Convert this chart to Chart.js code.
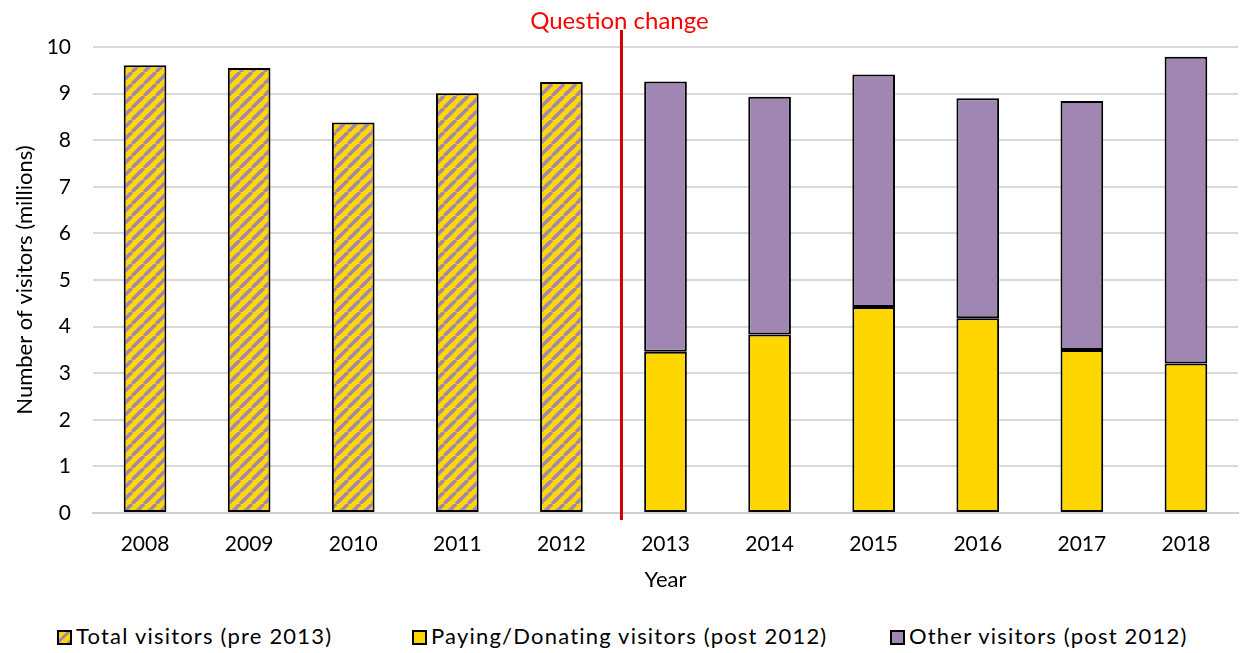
<!DOCTYPE html>
<html>
<head>
<meta charset="utf-8">
<script src="https://cdn.jsdelivr.net/npm/chart.js@4/dist/chart.umd.min.js"></script>
<style>
  html, body { margin: 0; padding: 0; background: #fff; }
  #wrap { width: 1243px; height: 653px; position: relative; overflow: hidden; }
  #plot { position: absolute; left: 0; top: 0; width: 1243px; height: 597px; }
  #legend { position: absolute; left: 0; top: 623px; width: 1243px; height: 30px;
            font-family: Lato, "Liberation Sans", sans-serif; font-size: 22px; color: #000;
            letter-spacing: 1.2px; }
  #legend .item { position: absolute; top: 0; white-space: nowrap; line-height: 26px; }
  #legend .box { display: inline-block; width: 15px; height: 15px; box-sizing: border-box;
                 border: 2px solid #000; vertical-align: -1px; margin-right: 4px; }
</style>
</head>
<body>
<div id="wrap">
  <div id="plot"><canvas id="chart"></canvas></div>
  <div id="legend"></div>
</div>
<script>
// 数据
var years = ['2008', '2009', '2010', '2011', '2012', '2013', '2014', '2015', '2016', '2017', '2018'];
var totalPre2013 = [9.61, 9.55, 8.38, 9.01, 9.25, null, null, null, null, null, null];
var payingPost2012 = [null, null, null, null, null, 3.46, 3.83, 4.42, 4.18, 3.50, 3.21];
var otherPost2012 = [null, null, null, null, null, 5.80, 5.10, 4.99, 4.72, 5.34, 6.58];
var yTicks = [0, 1, 2, 3, 4, 5, 6, 7, 8, 9, 10];

var YELLOW = '#FFD600';
var PURPLE = '#A086B2';
var FONT = 'Lato, "Liberation Sans", sans-serif';

// 斜线填充
function makeHatch() {
    var size = 12;
    var c = document.createElement('canvas');
    c.width = size; c.height = size;
    var g = c.getContext('2d');
    g.fillStyle = YELLOW;
    g.fillRect(0, 0, size, size);
    g.strokeStyle = PURPLE;
    g.lineWidth = 3.5;
    g.beginPath();
    for (var k = -1; k <= 1; k++) {
        g.moveTo(k * size, size);
        g.lineTo(k * size + size, 0);
    }
    g.stroke();
    return g.createPattern(c, 'repeat');
}
var hatch = makeHatch();

var questionChange = {
    id: 'questionChange',
    afterDatasetsDraw: function (chart) {
        var x = chart.scales.x;
        var y = chart.scales.y;
        var px = (x.getPixelForValue(4) + x.getPixelForValue(5)) / 2 + 8;
        var ctx = chart.ctx;
        ctx.save();
        ctx.strokeStyle = '#D00000';
        ctx.lineWidth = 3;
        ctx.beginPath();
        ctx.moveTo(px, y.getPixelForValue(10) - 17);
        ctx.lineTo(px, y.getPixelForValue(0) + 7);
        ctx.stroke();
        ctx.fillStyle = '#FF0000';
        ctx.font = '24px ' + FONT;
        ctx.textAlign = 'center';
        ctx.textBaseline = 'middle';
        ctx.fillText('Question change', px - 2, 21);
        ctx.restore();
    }
};

var chart = new Chart(document.getElementById('chart'), {
    type: 'bar',
    data: {
        labels: years,
        datasets: [{
            label: 'Total visitors (pre 2013)',
            data: totalPre2013,
            backgroundColor: hatch,
            borderColor: '#000',
            borderWidth: 2,
            borderSkipped: false,
            stack: 's'
        }, {
            label: 'Paying/Donating visitors (post 2012)',
            data: payingPost2012,
            backgroundColor: YELLOW,
            borderColor: '#000',
            borderWidth: 2,
            borderSkipped: false,
            stack: 's'
        }, {
            label: 'Other visitors (post 2012)',
            data: otherPost2012,
            backgroundColor: PURPLE,
            borderColor: '#000',
            borderWidth: 2,
            borderSkipped: false,
            stack: 's'
        }]
    },
    options: {
        responsive: true,
        maintainAspectRatio: false,
        animation: false,
        layout: { padding: { top: 47, right: 5, left: 10, bottom: 0 } },
        datasets: { bar: { categoryPercentage: 1, barPercentage: 0.41 } },
        plugins: {
            legend: { display: false },
            tooltip: { enabled: false }
        },
        scales: {
            x: {
                stacked: true,
                afterFit: function (axis) { axis.height = 84; },
                grid: { display: false, drawTicks: false },
                border: { color: '#D0D0D0', width: 2 },
                ticks: { color: '#000', font: { family: FONT, size: 21 }, padding: 19 },
                title: { display: true, text: 'Year', color: '#000', font: { family: FONT, size: 22 }, padding: { top: 0, bottom: 4 } }
            },
            y: {
                stacked: true,
                min: 0,
                max: 10,
                afterBuildTicks: function (axis) {
                    axis.ticks = yTicks.map(function (v) { return { value: v }; });
                },
                afterFit: function (axis) { axis.width = 83; },
                grid: { color: '#D9D9D9', lineWidth: 2, drawTicks: false },
                border: { display: false },
                ticks: { color: '#000', font: { family: FONT, size: 21 }, padding: 22 },
                title: { display: true, text: 'Number of visitors (millions)', color: '#000', font: { family: FONT, size: 22 }, padding: { top: 2, bottom: 0 } }
            }
        }
    },
    plugins: [questionChange]
});

// 图例（HTML）
var legendLeft = [57, 412, 890];
var legendEl = document.getElementById('legend');
chart.data.datasets.forEach(function (ds, i) {
    var item = document.createElement('span');
    item.className = 'item';
    item.style.left = legendLeft[i] + 'px';
    var box = document.createElement('span');
    box.className = 'box';
    box.style.background = i === 0
        ? 'repeating-linear-gradient(135deg, ' + YELLOW + ' 0 5px, ' + PURPLE + ' 5px 8px)'
        : ds.backgroundColor;
    item.appendChild(box);
    item.appendChild(document.createTextNode(ds.label));
    legendEl.appendChild(item);
});
</script>
</body>
</html>
